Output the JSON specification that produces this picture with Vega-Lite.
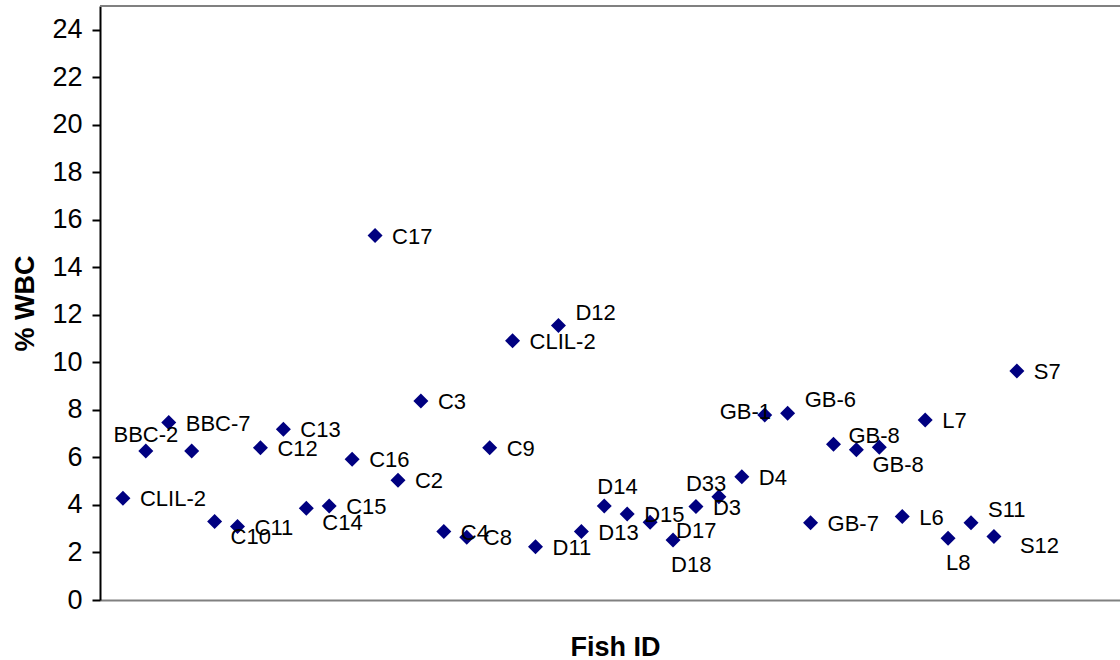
{
  "$schema": "https://vega.github.io/schema/vega-lite/v6.json",
  "width": 1020,
  "height": 594,
  "autosize": "none",
  "padding": {"left": 100, "top": 6, "right": 0, "bottom": 60},
  "config": {"view": {"stroke": null}, "font": "Liberation Sans"},
  "data": {"values": [
    {"n": 1, "id": "CLIL-2", "wbc": 4.28},
    {"n": 2, "id": "BBC-2", "wbc": 6.27},
    {"n": 3, "id": "BBC-7", "wbc": 7.47},
    {"n": 4, "id": "", "wbc": 6.27},
    {"n": 5, "id": "C10", "wbc": 3.30},
    {"n": 6, "id": "C11", "wbc": 3.09},
    {"n": 7, "id": "C12", "wbc": 6.41},
    {"n": 8, "id": "C13", "wbc": 7.19},
    {"n": 9, "id": "C14", "wbc": 3.86},
    {"n": 10, "id": "C15", "wbc": 3.96},
    {"n": 11, "id": "C16", "wbc": 5.92},
    {"n": 12, "id": "C17", "wbc": 15.34},
    {"n": 13, "id": "C2", "wbc": 5.04},
    {"n": 14, "id": "C3", "wbc": 8.38},
    {"n": 15, "id": "C4", "wbc": 2.88},
    {"n": 16, "id": "C8", "wbc": 2.64},
    {"n": 17, "id": "C9", "wbc": 6.41},
    {"n": 18, "id": "CLIL-2", "wbc": 10.91},
    {"n": 19, "id": "D11", "wbc": 2.24},
    {"n": 20, "id": "D12", "wbc": 11.55},
    {"n": 21, "id": "D13", "wbc": 2.88},
    {"n": 22, "id": "D14", "wbc": 3.96},
    {"n": 23, "id": "D15", "wbc": 3.62},
    {"n": 24, "id": "D17", "wbc": 3.27},
    {"n": 25, "id": "D18", "wbc": 2.53},
    {"n": 26, "id": "D3", "wbc": 3.93},
    {"n": 27, "id": "D33", "wbc": 4.35},
    {"n": 28, "id": "D4", "wbc": 5.19},
    {"n": 29, "id": "GB-1", "wbc": 7.79},
    {"n": 30, "id": "GB-6", "wbc": 7.86},
    {"n": 31, "id": "GB-7", "wbc": 3.25},
    {"n": 32, "id": "GB-8", "wbc": 6.56},
    {"n": 33, "id": "GB-8", "wbc": 6.32},
    {"n": 34, "id": "", "wbc": 6.43},
    {"n": 35, "id": "L6", "wbc": 3.51},
    {"n": 36, "id": "L7", "wbc": 7.58},
    {"n": 37, "id": "L8", "wbc": 2.60},
    {"n": 38, "id": "S11", "wbc": 3.25},
    {"n": 39, "id": "S12", "wbc": 2.67},
    {"n": 40, "id": "S7", "wbc": 9.64}
  ]},
  "layer": [
    {
      "data": {"values": [{}]},
      "mark": {"type": "rule", "color": "#808080", "strokeWidth": 2},
      "encoding": {"y": {"datum": 25, "type": "quantitative"}}
    },
    {
      "mark": {"type": "point", "shape": "diamond", "filled": true, "color": "#000080", "size": 225, "opacity": 1},
      "encoding": {
        "x": {"field": "n", "type": "quantitative",
          "scale": {"domain": [0, 44.5], "nice": false, "zero": false},
          "axis": {"domainColor": "#808080", "domainWidth": 2, "ticks": false, "labels": false, "grid": false,
            "title": "Fish ID", "titleFontSize": 27, "titleFontWeight": "bold", "titleColor": "black",
            "titleX": 515, "titleY": 55, "titleBaseline": "alphabetic", "titleAlign": "center", "titleFont": "Liberation Sans"}},
        "y": {"field": "wbc", "type": "quantitative",
          "scale": {"domain": [0, 25], "nice": false},
          "axis": {"values": [0, 2, 4, 6, 8, 10, 12, 14, 16, 18, 20, 22, 24], "grid": false,
            "domainColor": "black", "domainWidth": 2, "tickColor": "black", "tickWidth": 2, "tickSize": 8,
            "labelFontSize": 27, "labelColor": "black", "labelPadding": 10, "labelFont": "Liberation Sans",
            "title": "% WBC", "titleFontSize": 27, "titleFontWeight": "bold", "titleColor": "black",
            "titleX": -67, "titleY": 297, "titleBaseline": "alphabetic", "titleAlign": "center", "titleAngle": -90, "titleFont": "Liberation Sans"}}
      }
    },
    {
      "transform": [{"filter": {"not": {"field": "n", "oneOf": [2, 4, 5, 9, 20, 22, 24, 25, 27, 29, 30, 32, 33, 34, 37, 38, 39]}}}],
      "mark": {"type": "text", "align": "left", "baseline": "middle", "dx": 17, "dy": 1, "fontSize": 22, "color": "black"},
      "encoding": {"x": {"field": "n", "type": "quantitative"}, "y": {"field": "wbc", "type": "quantitative"}, "text": {"field": "id"}}
    },
    {
      "transform": [{"filter": {"field": "n", "oneOf": [5, 9, 33]}}],
      "mark": {"type": "text", "align": "left", "baseline": "middle", "dx": 16, "dy": 15, "fontSize": 22, "color": "black"},
      "encoding": {"x": {"field": "n", "type": "quantitative"}, "y": {"field": "wbc", "type": "quantitative"}, "text": {"field": "id"}}
    },
    {
      "transform": [{"filter": {"field": "n", "oneOf": [24, 39]}}],
      "mark": {"type": "text", "align": "left", "baseline": "middle", "dx": 26, "dy": 9, "fontSize": 22, "color": "black"},
      "encoding": {"x": {"field": "n", "type": "quantitative"}, "y": {"field": "wbc", "type": "quantitative"}, "text": {"field": "id"}}
    },
    {
      "transform": [{"filter": {"field": "n", "oneOf": [20, 30, 38]}}],
      "mark": {"type": "text", "align": "left", "baseline": "middle", "dx": 17, "dy": -13, "fontSize": 22, "color": "black"},
      "encoding": {"x": {"field": "n", "type": "quantitative"}, "y": {"field": "wbc", "type": "quantitative"}, "text": {"field": "id"}}
    },
    {
      "transform": [{"filter": {"field": "n", "oneOf": [32]}}],
      "mark": {"type": "text", "align": "left", "baseline": "middle", "dx": 15, "dy": -8, "fontSize": 22, "color": "black"},
      "encoding": {"x": {"field": "n", "type": "quantitative"}, "y": {"field": "wbc", "type": "quantitative"}, "text": {"field": "id"}}
    },
    {
      "transform": [{"filter": {"field": "n", "oneOf": [25, 37]}}],
      "mark": {"type": "text", "align": "left", "baseline": "middle", "dx": -2, "dy": 25, "fontSize": 22, "color": "black"},
      "encoding": {"x": {"field": "n", "type": "quantitative"}, "y": {"field": "wbc", "type": "quantitative"}, "text": {"field": "id"}}
    },
    {
      "transform": [{"filter": {"field": "n", "oneOf": [2]}}],
      "mark": {"type": "text", "align": "center", "baseline": "middle", "dx": 0, "dy": -16, "fontSize": 22, "color": "black"},
      "encoding": {"x": {"field": "n", "type": "quantitative"}, "y": {"field": "wbc", "type": "quantitative"}, "text": {"field": "id"}}
    },
    {
      "transform": [{"filter": {"field": "n", "oneOf": [22]}}],
      "mark": {"type": "text", "align": "left", "baseline": "middle", "dx": -7, "dy": -19, "fontSize": 22, "color": "black"},
      "encoding": {"x": {"field": "n", "type": "quantitative"}, "y": {"field": "wbc", "type": "quantitative"}, "text": {"field": "id"}}
    },
    {
      "transform": [{"filter": {"field": "n", "oneOf": [27]}}],
      "mark": {"type": "text", "align": "left", "baseline": "middle", "dx": -33, "dy": -13, "fontSize": 22, "color": "black"},
      "encoding": {"x": {"field": "n", "type": "quantitative"}, "y": {"field": "wbc", "type": "quantitative"}, "text": {"field": "id"}}
    },
    {
      "transform": [{"filter": {"field": "n", "oneOf": [29]}}],
      "mark": {"type": "text", "align": "left", "baseline": "middle", "dx": -45, "dy": -3, "fontSize": 22, "color": "black"},
      "encoding": {"x": {"field": "n", "type": "quantitative"}, "y": {"field": "wbc", "type": "quantitative"}, "text": {"field": "id"}}
    }
  ]
}
